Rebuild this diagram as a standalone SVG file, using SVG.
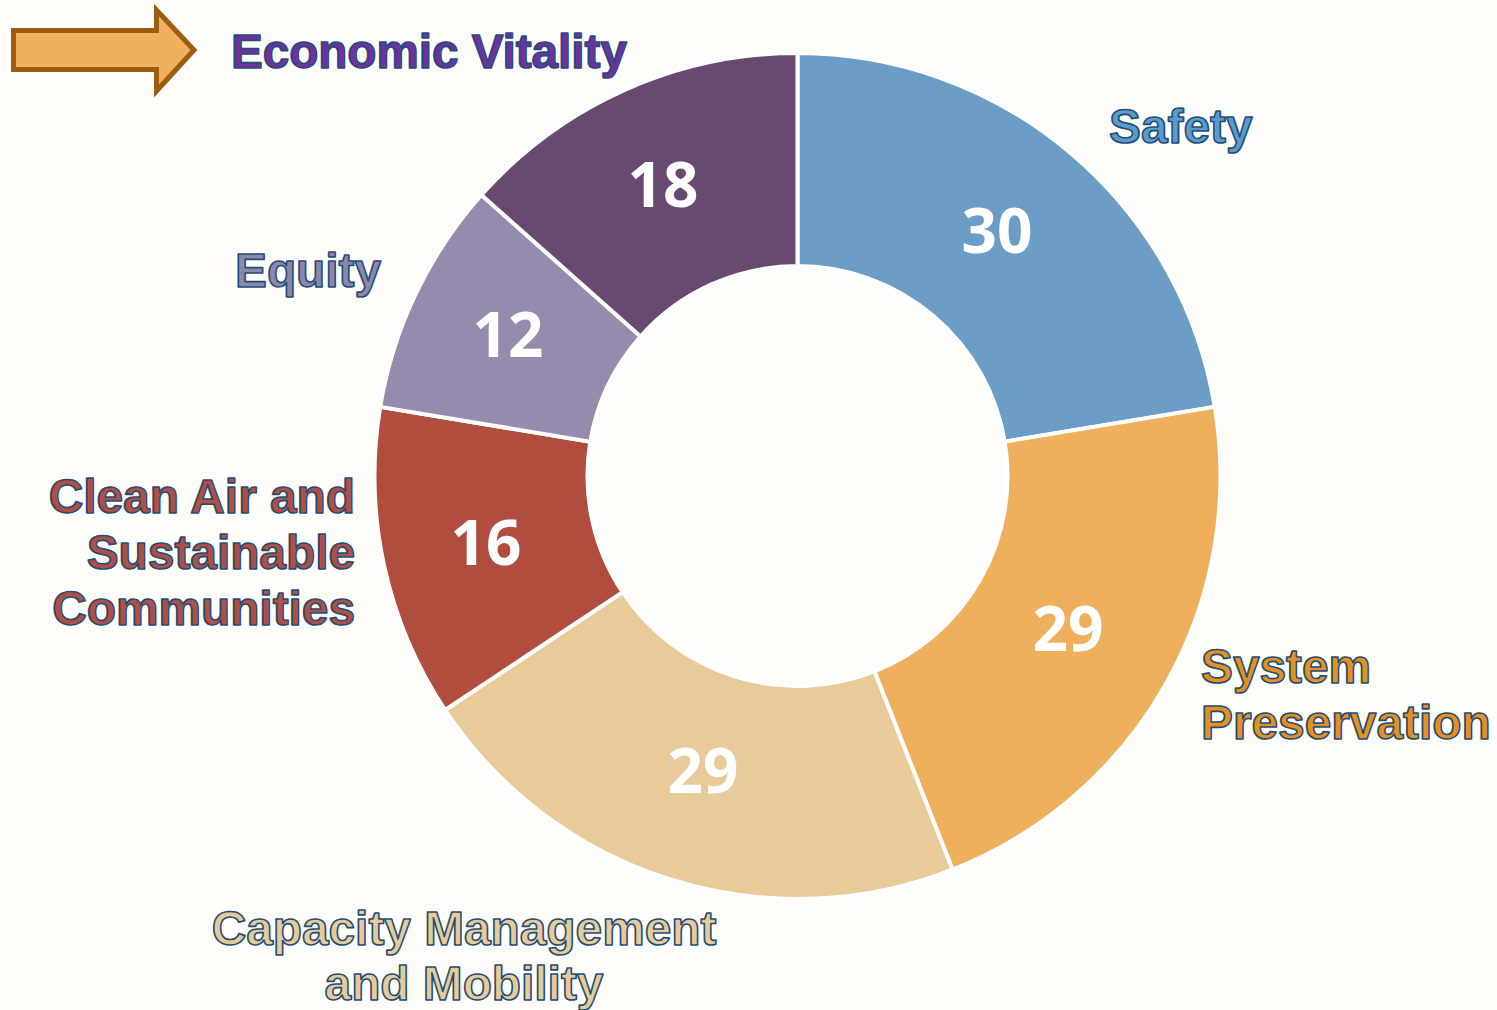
<svg xmlns="http://www.w3.org/2000/svg" width="1497" height="1010" viewBox="0 0 1497 1010">
<defs>
<style>
.slice{stroke:#ffffff;stroke-width:4;stroke-linejoin:miter}
.num{font-family:"Open Sans","DejaVu Sans",sans-serif;font-weight:700;font-size:62px;fill:#ffffff;text-anchor:middle}
.lbl{font-family:"Liberation Sans",Arial,sans-serif;font-weight:700;font-size:47.8px;stroke:#1F4E79;stroke-width:1.6;stroke-linejoin:round}
</style>
</defs>
<rect x="0" y="0" width="1497" height="1010" fill="#FEFDFA"/>
<g id="arrow">
<path d="M13.5,30.5 L156.5,30.5 L156.5,10 L194,50 L156.5,91 L156.5,69.5 L13.5,69.5 Z" fill="#F0B060" stroke="#9C5D12" stroke-width="5" stroke-linejoin="miter"/>
</g>
<g id="slice-safety">
<path class="slice" fill="#6B9DC7" d="M797.5,53 A423,423 0 0 1 1214.8,406.9 L1004.7,441.7 A210,210 0 0 0 797.5,266 Z"/>
<text class="num" x="997" y="253">30</text>
</g>
<g id="slice-system-preservation">
<path class="slice" fill="#EFB05E" d="M1214.8,406.9 A423,423 0 0 1 952.5,869.6 L874.4,671.4 A210,210 0 0 0 1004.7,441.7 Z"/>
<text class="num" x="1068" y="651">29</text>
</g>
<g id="slice-capacity">
<path class="slice" fill="#E8CB99" d="M952.5,869.6 A423,423 0 0 1 445.1,710 L622.6,592.2 A210,210 0 0 0 874.4,671.4 Z"/>
<text class="num" x="703" y="793">29</text>
</g>
<g id="slice-clean-air">
<path class="slice" fill="#B14D3E" d="M445.1,710 A423,423 0 0 1 380.2,406.9 L590.3,441.7 A210,210 0 0 0 622.6,592.2 Z"/>
<text class="num" x="486" y="565">16</text>
</g>
<g id="slice-equity">
<path class="slice" fill="#968BAC" d="M380.2,406.9 A423,423 0 0 1 481.4,194.9 L640.6,336.5 A210,210 0 0 0 590.3,441.7 Z"/>
<text class="num" x="508" y="357">12</text>
</g>
<g id="slice-economic-vitality">
<path class="slice" fill="#684A70" d="M481.4,194.9 A423,423 0 0 1 797.5,53 L797.5,266 A210,210 0 0 0 640.6,336.5 Z"/>
<text class="num" x="663" y="207">18</text>
</g>
<g id="labels">
<text class="lbl" x="231" y="68" fill="#7030A0" style="font-size:47.6px">Economic Vitality</text>
<text class="lbl" x="1109" y="143" fill="#5A9BCB">Safety</text>
<text class="lbl" x="235" y="287" fill="#8C88AC">Equity</text>
<text class="lbl" x="355" y="513" fill="#B24E42" text-anchor="end">Clean Air and</text>
<text class="lbl" x="355" y="569" fill="#B24E42" text-anchor="end">Sustainable</text>
<text class="lbl" x="355" y="625" fill="#B24E42" text-anchor="end">Communities</text>
<text class="lbl" x="1201" y="683" fill="#E8901E">System</text>
<text class="lbl" x="1201" y="739" fill="#E8901E">Preservation</text>
<text class="lbl" x="464" y="945" fill="#E8CB98" text-anchor="middle">Capacity Management</text>
<text class="lbl" x="464" y="1000" fill="#E8CB98" text-anchor="middle">and Mobility</text>
</g>
</svg>
